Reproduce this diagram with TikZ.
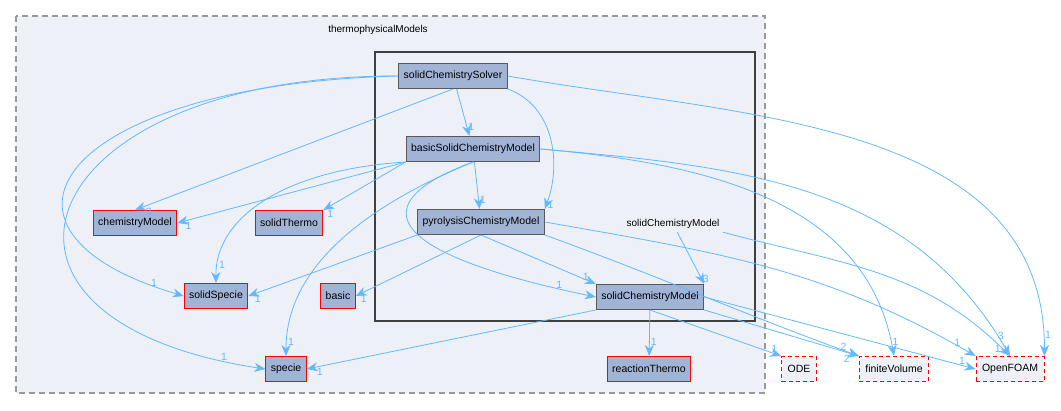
\documentclass[tikz,border=0pt]{standalone}
\usepackage{fontspec}
\setmainfont{Liberation Sans}
\usetikzlibrary{arrows.meta}
\definecolor{edgeBlue}{HTML}{63B8FF}
\definecolor{boxFill}{HTML}{A2B4D6}
\definecolor{clusterFill}{HTML}{EDF0F7}
\tikzset{
  dirBox/.style={draw=#1, fill=boxFill, line width=1pt, minimum height=25pt, inner xsep=5pt, font=\fontsize{10.5}{12}\selectfont},
  extBox/.style={draw=red, dash pattern=on 4pt off 3pt, fill=clusterFill, line width=1pt, minimum height=25pt, inner xsep=6pt, font=\fontsize{10.5}{12}\selectfont},
  dep/.style={draw=edgeBlue, line width=0.8pt, -{Stealth[length=11pt,width=9pt]}},
  cnt/.style={text=edgeBlue, font=\fontsize{10.5}{12}\selectfont, inner sep=1pt},
}
\begin{document}
\begin{tikzpicture}[x=1pt, y=-1pt]
  \useasboundingbox (0,0) rectangle (1061,410);

  % Clusters:
  \draw[gray!80, line width=1.2pt, dash pattern=on 6pt off 4pt, fill=clusterFill] (16,16) rectangle (765,393);
  \node[font=\fontsize{10}{12}\selectfont] (thermoLbl) at (378,30) {thermophysicalModels};
  \draw[black!75, line width=2pt] (375,52) rectangle (755,321);

  % Directories:
  \node[dirBox=black!65] (solver)   at (453,76)  {solidChemistrySolver};
  \node[dirBox=black!65] (basicSCM) at (473,149) {basicSolidChemistryModel};
  \node[dirBox=black!65] (pyro)     at (481,222) {pyrolysisChemistryModel};
  \node[font=\fontsize{10}{12}\selectfont] (scmLbl) at (673,224) {solidChemistryModel};
  \node[dirBox=black!65] (scm)      at (650,297) {solidChemistryModel};
  \node[dirBox=red] (reacThermo) at (649,369) {reactionThermo};
  \node[dirBox=red] (chemModel)  at (135,223) {chemistryModel};
  \node[dirBox=red] (solThermo)  at (289,223) {solidThermo};
  \node[dirBox=red] (solSpecie)  at (216,296) {solidSpecie};
  \node[dirBox=red] (basicDir)   at (338,296) {basic};
  \node[dirBox=red] (specie)     at (286,369) {specie};
  \node[extBox] (ode)      at (799,369) {ODE};
  \node[extBox] (finVol)   at (894,369) {finiteVolume};
  \node[extBox] (openFoam) at (1010,369) {OpenFOAM};

  % solidChemistrySolver:
  \draw[dep] (solver) -- node[cnt, pos=0.8, right] {1} (basicSCM);
  \draw[dep] (solver.south east) to[out=-20, in=70] node[cnt, pos=0.97, right] {1} (pyro.north east);
  \draw[dep] (solver.south) -- node[cnt, pos=0.97, below right] {3} (chemModel.north);
  \draw[dep] (solver.west) .. controls (60,85) and (-40,230) .. node[cnt, pos=0.96, above left] {1} (solSpecie.west);
  \draw[dep] (solver.west) .. controls (30,75) and (-60,320) .. node[cnt, pos=0.96, above left] {1} (specie.west);
  \draw[dep] (solver.east) to[out=-10, in=90] node[cnt, pos=0.97, right] {1} (openFoam.north east);

  % basicSolidChemistryModel:
  \draw[dep] (basicSCM.south west) -- node[cnt, pos=0.97, below right] {1} (chemModel.east);
  \draw[dep] (basicSCM.south west) -- node[cnt, pos=0.97, below right] {1} (solThermo.north east);
  \draw[dep] (basicSCM.south west) .. controls (280,170) and (215,220) .. node[cnt, pos=0.9, right] {1} (solSpecie.north);
  \draw[dep] (basicSCM.south) .. controls (380,200) and (286,260) .. node[cnt, pos=0.95, right] {1} (specie.north);
  \draw[dep] (basicSCM) -- node[cnt, pos=0.8, right] {1} (pyro);
  \draw[dep] (basicSCM.south) .. controls (370,200) and (370,250) .. node[cnt, pos=0.95, above left] {1} (scm.west);
  \draw[dep] (basicSCM.east) to[out=-5, in=100] node[cnt, pos=0.97, right] {1} (finVol.north);
  \draw[dep] (basicSCM.east) to[out=-5, in=120] node[cnt, pos=0.97, above] {3} (openFoam.north);

  % pyrolysisChemistryModel:
  \draw[dep] (pyro.south west) -- node[cnt, pos=0.97, below right] {1} (solSpecie.east);
  \draw[dep] (pyro.south) -- node[cnt, pos=0.97, below right] {1} (basicDir.east);
  \draw[dep] (pyro.south) -- node[cnt, pos=0.95, above left] {1} (scm.north west);
  \draw[dep] (pyro.south east) to[out=-20, in=160] node[cnt, pos=0.97, above left] {2} (finVol.north west);
  \draw[dep] (pyro.east) to[out=-10, in=150] node[cnt, pos=0.97, above left] {1} (openFoam.north west);

  % solidChemistryModel:
  \draw[dep] (scmLbl) -- node[cnt, pos=0.9, right] {3} (scm.north east);
  \draw[dep] (scmLbl.south east) to[out=-15, in=135] node[cnt, pos=0.97, left] {1} (openFoam.north);
  \draw[dep] (scm) -- node[cnt, pos=0.7, right] {1} (reacThermo);
  \draw[dep] (scm.south west) -- node[cnt, pos=0.97, below right] {1} (specie.east);
  \draw[dep] (scm.south) -- node[cnt, pos=0.95, above] {1} (ode.north west);
  \draw[dep] (scm.south east) -- node[cnt, pos=0.95, below left] {2} (finVol.north west);
  \draw[dep] (scm.east) -- node[cnt, pos=0.95, above] {1} (openFoam.west);
\end{tikzpicture}
\end{document}
